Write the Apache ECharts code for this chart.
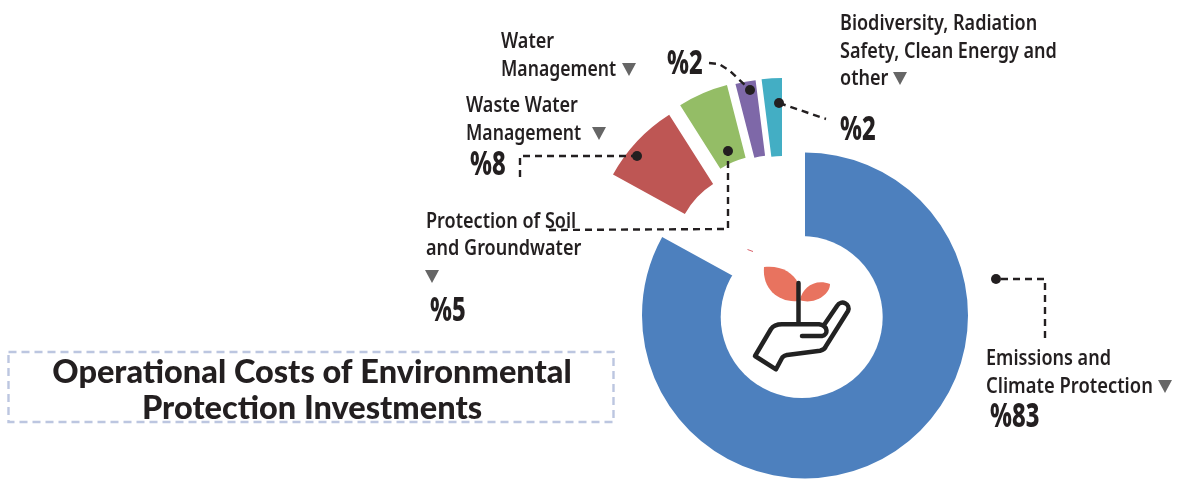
<!DOCTYPE html>
<html>
<head>
<meta charset="utf-8">
<style>html,body{margin:0;padding:0;background:#fff}#chart{width:1178px;height:482px}</style>
<script src="https://cdn.jsdelivr.net/npm/echarts@6/dist/echarts.min.js"></script>
</head>
<body>
<div id="chart"></div>
<script>
// Share of operational environmental protection costs, in percent
const categories = [
  'Emissions and Climate Protection',
  'Waste Water Management',
  'Protection of Soil and Groundwater',
  'Water Management',
  'Biodiversity, Radiation Safety, Clean Energy and other'
];
const shares = [83, 8, 5, 2, 2];
const sliceColors = ['#4D80BE', '#BE5654', '#94BD66', '#7E68A8', '#43AEC4'];
// The small slices are pulled away from the ring, each on its own centre
const sliceCentres = [[805, 315.5], [757.6, 254], [767.5, 243], [776, 242], [782, 241]];
const sliceRadii = [[70, 163], [83, 165], [88, 163], [87, 163], [85, 163]];
const titleText = 'Operational Costs of Environmental\nProtection Investments';

const INK = '#231F20';
const FONT = '"Noto Sans"';

// Slices run clockwise from twelve o'clock
let angle = 90;
const series = shares.map((value, i) => {
  const startAngle = angle;
  angle -= value * 3.6;
  return {
    type: 'pie',
    silent: true,
    animation: false,
    clockwise: true,
    center: sliceCentres[i],
    radius: sliceRadii[i],
    startAngle,
    endAngle: angle,
    label: { show: false },
    labelLine: { show: false },
    itemStyle: { color: sliceColors[i] },
    data: [{ name: categories[i], value }]
  };
});

// White hub with the seedling-in-hand emblem
series.push({
  type: 'custom',
  coordinateSystem: 'none',
  silent: true,
  z: 6,
  data: [0],
  renderItem: () => ({
    type: 'group',
    children: [
      { type: 'circle', shape: { cx: 801.7, cy: 317, r: 81 }, style: { fill: '#fff' } },
      { type: 'path', shape: { pathData: 'M764,267 C780,265 793,272 798,283 L798,301 C780,303 762,290 764,267 Z' }, style: { fill: '#E8735F' } },
      { type: 'path', shape: { pathData: 'M830,284 C830,296 812,305 800,300 C802,288 815,278 830,284 Z' }, style: { fill: '#E8735F' } },
      { type: 'path', shape: { pathData: 'M798.5,283 L798.5,323' }, style: { fill: 'none', stroke: '#222', lineWidth: 4.5, lineCap: 'round' } },
      { type: 'path', shape: { pathData: 'M802,336 L822,336 C828,335 829,326 819,324.3 L782,324.3 C776,324.3 773,326 771,329 L755,356 L776,369.3 L782,358 C783,356 785,355.6 787,355 L820,350.7 C823,350 825,349 826,346 L848,311 C851,304 841,299 837,306 L824,325' },
        style: { fill: 'none', stroke: '#222', lineWidth: 4.5, lineCap: 'round', lineJoin: 'round' } },
      { type: 'line', shape: { x1: 747.5, y1: 249.5, x2: 753, y2: 251.5 }, style: { stroke: '#D9606A', lineWidth: 1 } }
    ]
  })
});

function label(text, x, y, size, weight, narrow) {
  return {
    type: 'text', x, y, scaleX: narrow, z: 20,
    style: { text, fill: INK, font: `${weight} ${size}px ${FONT}`, textAlign: 'left', textVerticalAlign: 'middle' }
  };
}
function marker(cx, cy) {
  return { type: 'polygon', z: 20, shape: { points: [[cx - 7, cy - 6], [cx + 7, cy - 6], [cx, cy + 7]] }, style: { fill: '#666666' } };
}
function dot(cx, cy) {
  return { type: 'circle', z: 25, shape: { cx, cy, r: 5 }, style: { fill: INK } };
}
function leader(points) {
  return { type: 'polyline', z: 24, shape: { points }, style: { fill: 'none', stroke: INK, lineWidth: 2.4, lineDash: [7, 5] } };
}

const catLabels = [
  ['Emissions and', 986, 359, 0.82], ['Climate Protection', 986, 387, 0.835],
  ['Waste Water', 466, 106, 0.82], ['Management', 466, 134, 0.8],
  ['Protection of Soil', 426, 222, 0.82], ['and Groundwater', 426, 249, 0.82],
  ['Water', 501, 42, 0.82], ['Management', 501, 70, 0.8],
  ['Biodiversity, Radiation', 840, 24, 0.82], ['Safety, Clean Energy and', 840, 52, 0.82], ['other', 840, 79, 0.82]
];
const valueLabelSpots = [[990, 418], [470, 166], [430, 312], [667, 65], [840, 131]];

const graphic = [
  // dashed frame around the title
  { type: 'rect', z: 5, shape: { x: 8.5, y: 352, width: 605, height: 70 },
    style: { fill: 'none', stroke: '#BCC6E0', lineWidth: 2.4, lineDash: [8, 5] } },
  // leader lines
  leader([[1045, 338], [1045, 279], [996, 279]]),
  leader([[520, 177], [520, 156], [637, 156]]),
  leader([[549, 230], [728, 229], [728, 151]]),
  leader([[709, 63], [719, 64], [730, 71], [750, 90]]),
  leader([[779, 103], [826, 119]]),
  dot(996, 279), dot(637, 156), dot(728, 151), dot(750, 90), dot(779, 103),
  marker(1165, 386), marker(599, 133), marker(432, 276), marker(629, 69), marker(900, 78)
];
catLabels.forEach(([t, x, y, narrow]) => graphic.push(label(t, x, y, 22, 600, narrow)));
shares.forEach((v, i) => graphic.push(label('%' + v, valueLabelSpots[i][0], valueLabelSpots[i][1], 33, 800, 0.72)));

const chart = echarts.init(document.getElementById('chart'), null, { renderer: 'canvas' });
chart.setOption({
  animation: false,
  backgroundColor: '#fff',
  title: {
    text: titleText,
    left: 307,
    top: 350,
    textAlign: 'center',
    textStyle: { fontFamily: 'Lato', fontWeight: 900, fontSize: 32.5, lineHeight: 36, color: INK }
  },
  series,
  graphic
});
</script>
</body>
</html>
